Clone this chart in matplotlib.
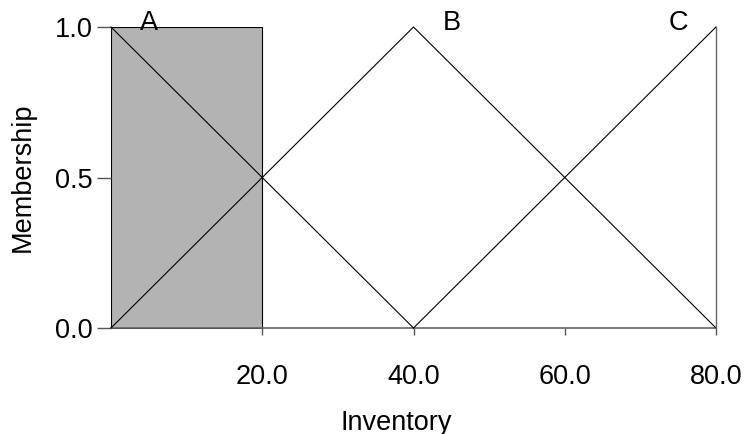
import matplotlib
matplotlib.use("Agg")
import matplotlib.pyplot as plt

plt.rcParams['font.family'] = ['Liberation Sans', 'DejaVu Sans']

# Membership functions (x breakpoints, membership values)
a_x = [0, 20, 40]
a_y = [1.0, 0.5, 0.0]
b_x = [0, 40, 80]
b_y = [0.0, 1.0, 0.0]
c_x = [40, 80]
c_y = [0.0, 1.0]
shade_range = [0, 20]
labels = ["A", "B", "C"]
label_x = [5, 45, 75]
xticks = [20, 40, 60, 80]
xticklabels = ["20.0", "40.0", "60.0", "80.0"]
yticks = [0.0, 0.5, 1.0]
yticklabels = ["0.0", "0.5", "1.0"]

W, H = 746, 434
fig = plt.figure(figsize=(W / 100, H / 100), dpi=100)
ax = fig.add_axes([111/W, 106/H, 605/W, 301/H])

ax.fill_between(shade_range, 0, 1, facecolor="#b3b3b3", edgecolor="black", linewidth=0.8, zorder=1)
ax.plot(a_x, a_y, color="black", lw=0.8, zorder=3, clip_on=False)
ax.plot(b_x, b_y, color="black", lw=0.8, zorder=3, clip_on=False)
ax.plot(c_x, c_y, color="black", lw=0.8, zorder=3, clip_on=False)
ax.plot([c_x[-1], c_x[-1]], [0, c_y[-1]], color="#666666", lw=1.0, zorder=3, clip_on=False)

for lab, lx in zip(labels, label_x):
    ax.text(lx, 1.012, lab, ha="center", va="center", fontsize=19.5)

ax.set_xlim(0, 80)
ax.set_ylim(0, 1)
for s in ["top", "right", "left"]:
    ax.spines[s].set_visible(False)
ax.spines["bottom"].set_color("#666666")
ax.spines["bottom"].set_linewidth(1.2)

ax.set_xticks(xticks)
ax.set_xticklabels(xticklabels)
ax.set_yticks(yticks)
ax.set_yticklabels(yticklabels)
ax.tick_params(axis="x", direction="out", length=5, width=1.0, color="#555555", pad=21, labelsize=19.5)
ax.tick_params(axis="y", direction="out", length=10, width=1.0, color="#555555", pad=3, labelsize=19.5)

fig.text(396/W, (H - 430)/H, "Inventory", ha="center", va="baseline", fontsize=19.5)
fig.text(23/W, 1 - 177/H, "Membership", ha="center", va="center", rotation=90, fontsize=19.5)

fig.savefig("out.png", dpi=100)
